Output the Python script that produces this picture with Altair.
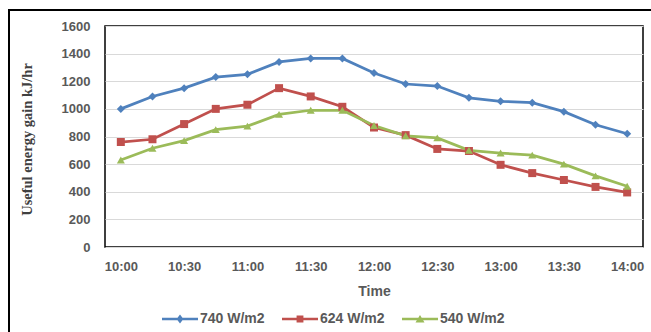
import altair as alt
import pandas as pd

# ---- data ----
times = ["10:00", "10:15", "10:30", "10:45", "11:00", "11:15", "11:30", "11:45",
         "12:00", "12:15", "12:30", "12:45", "13:00", "13:15", "13:30", "13:45", "14:00"]
x_labels = ["10:00", "10:30", "11:00", "11:30", "12:00", "12:30", "13:00", "13:30", "14:00"]
y_ticks = [0, 200, 400, 600, 800, 1000, 1200, 1400, 1600]
series = ["740 W/m2", "624 W/m2", "540 W/m2"]
gain_740 = [1000, 1090, 1150, 1230, 1250, 1340, 1365, 1365, 1260, 1180, 1165, 1080, 1055, 1045, 980, 885, 820]
gain_624 = [760, 780, 890, 1000, 1030, 1150, 1090, 1015, 865, 810, 710, 695, 595, 535, 485, 435, 395]
gain_540 = [630, 715, 770, 850, 875, 960, 990, 990, 880, 805, 790, 700, 680, 665, 600, 515, 440]

# ---- styling ----
colors = ["#4F81BD", "#C0504D", "#9BBB59"]
marker_shapes = ["diamond", "square", "triangle-up"]
legend_paths = [
    "M-1,-0.075L1,-0.075L1,0.075L-1,0.075Z M0,-0.25L0.19,0L0,0.25L-0.19,0Z",
    "M-1,-0.075L1,-0.075L1,0.075L-1,0.075Z M-0.19,-0.19L0.19,-0.19L0.19,0.19L-0.19,0.19Z",
    "M-1,-0.075L1,-0.075L1,0.075L-1,0.075Z M0,-0.22L0.25,0.19L-0.25,0.19Z",
]
gray = "#595959"
sans = "Liberation Sans"

rows = []
for s, vals in zip(series, [gain_740, gain_624, gain_540]):
    for t, v in zip(times, vals):
        rows.append({"time": t, "series": s, "gain": v})
df = pd.DataFrame(rows)

x_enc = alt.X(
    "time:O", sort=times,
    scale=alt.Scale(type="point", padding=0.5),
    axis=alt.Axis(values=x_labels, title="Time", labelAngle=0, domain=False, ticks=False,
                  grid=False, labelPadding=13, labelFont=sans, labelFontSize=13,
                  labelFontWeight="bold", labelColor=gray, titleFont=sans, titleFontSize=14,
                  titleFontWeight="bold", titleColor=gray, titleY=44, titleBaseline="middle"),
)
y_enc = alt.Y(
    "gain:Q", scale=alt.Scale(domain=[0, 1600], nice=False),
    axis=alt.Axis(values=y_ticks, format="d", title="Useful energy gain kJ/hr", domain=False,
                  ticks=False, grid=True, gridColor="#D9D9D9", gridWidth=1, labelPadding=15,
                  labelFont=sans, labelFontSize=13, labelFontWeight="bold", labelColor=gray,
                  titleFont="Liberation Serif", titleFontSize=14.5, titleFontWeight="bold",
                  titleColor="#404040", titleAngle=270, titleX=-78, titleY=113,
                  titleAlign="center", titleBaseline="middle"),
)
color_scale = alt.Scale(domain=series, range=colors)

frame = alt.Chart(alt.Data(values=[{}])).mark_rect(
    fill="transparent", stroke="#000000", strokeWidth=2
).encode(x=alt.value(-96), x2=alt.value(560), y=alt.value(-16), y2=alt.value(330))

lines = alt.Chart(df).mark_line(strokeWidth=2.75).encode(
    x=x_enc, y=y_enc,
    color=alt.Color("series:N", scale=color_scale, legend=None),
)
points = alt.Chart(df).mark_point(filled=True, size=64, opacity=1).encode(
    x=x_enc, y=y_enc,
    color=alt.Color("series:N", scale=color_scale, legend=None),
    shape=alt.Shape("series:N", scale=alt.Scale(domain=series, range=marker_shapes), legend=None),
)
leg = alt.Legend(title=None, orient="none", legendX=57, legendY=275, direction="horizontal",
                 labelFont=sans, labelFontSize=14, labelFontWeight="bold", labelColor=gray,
                 labelOffset=2, columnPadding=17, symbolSize=1296, symbolStrokeWidth=0,
                 symbolOpacity=1, padding=0)
legend_layer = alt.Chart(df).transform_filter("false").mark_point(filled=True, size=1296, opacity=1).encode(
    color=alt.Color("series:N", scale=color_scale, legend=leg),
    shape=alt.Shape("series:N", scale=alt.Scale(domain=series, range=legend_paths), legend=leg),
)

chart = alt.layer(frame, lines, points, legend_layer).resolve_scale(
    color="independent", shape="independent"
).properties(
    width=538, height=221,
    autosize=alt.AutoSizeParams(type="none"),
    padding={"left": 105, "top": 26, "right": 8, "bottom": 85},
    background="white",
).configure_view(stroke="#000000", strokeWidth=1.5)

chart.save("out.html", embed_options={"renderer": "svg", "actions": False})
